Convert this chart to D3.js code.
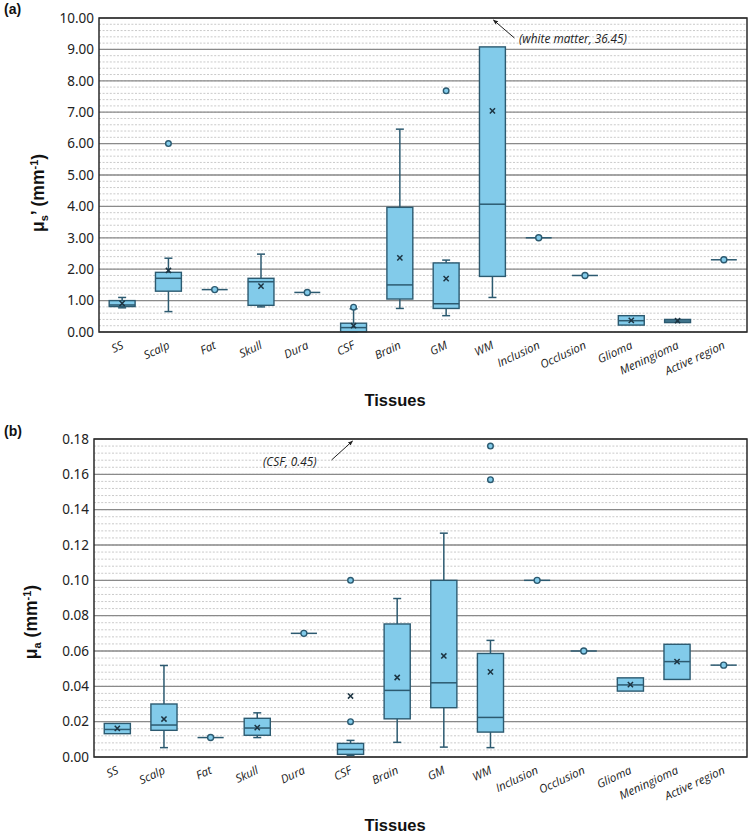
<!DOCTYPE html>
<html>
<head>
<meta charset="utf-8">
<script src="https://cdnjs.cloudflare.com/ajax/libs/d3/7.8.5/d3.min.js"></script>
<style>
  body { margin: 0; background: #fff; }
  svg { display: block; }
</style>
</head>
<body>
<div id="chart"></div>
<script>
// categories (shared by both panels)
var tissues = ["SS", "Scalp", "Fat", "Skull", "Dura", "CSF", "Brain", "GM", "WM",
               "Inclusion", "Occlusion", "Glioma", "Meningioma", "Active region"];

// (a) reduced scattering coefficient, mm-1
var musLow    = [0.77, 0.65, 1.35, 0.80, 1.26, 0.00, 0.75, 0.52, 1.10, 3.00, 1.80, 0.22, 0.30, 2.30];
var musQ1     = [0.81, 1.30, 1.35, 0.85, 1.26, 0.01, 1.05, 0.75, 1.77, 3.00, 1.80, 0.22, 0.30, 2.30];
var musMedian = [0.86, 1.71, 1.35, 1.60, 1.26, 0.14, 1.50, 0.90, 4.07, 3.00, 1.80, 0.36, 0.35, 2.30];
var musQ3     = [1.00, 1.90, 1.35, 1.71, 1.26, 0.28, 3.97, 2.20, 9.08, 3.00, 1.80, 0.52, 0.40, 2.30];
var musHigh   = [1.10, 2.35, 1.35, 2.48, 1.26, 0.74, 6.46, 2.29, 9.08, 3.00, 1.80, 0.52, 0.40, 2.30];
var musMean   = [0.91, 1.96, 1.35, 1.46, 1.26, 0.20, 2.36, 1.70, 7.04, 3.00, 1.80, 0.37, 0.36, 2.30];
var musOutliers = [["Scalp", 6.00], ["CSF", 0.79], ["GM", 7.68]];
var musTicks  = [0, 1, 2, 3, 4, 5, 6, 7, 8, 9, 10];

// (b) absorption coefficient, mm-1
var muaLow    = [0.0132, 0.0053, 0.011, 0.011, 0.070, 0.0010, 0.0083, 0.0056, 0.0053, 0.100, 0.060, 0.0373, 0.0439, 0.052];
var muaQ1     = [0.0132, 0.0151, 0.011, 0.0123, 0.070, 0.0015, 0.0216, 0.0279, 0.0141, 0.100, 0.060, 0.0373, 0.0439, 0.052];
var muaMedian = [0.0156, 0.0181, 0.011, 0.0164, 0.070, 0.0043, 0.0377, 0.0420, 0.0224, 0.100, 0.060, 0.0408, 0.0540, 0.052];
var muaQ3     = [0.0190, 0.0300, 0.011, 0.0219, 0.070, 0.0077, 0.0753, 0.1000, 0.0586, 0.100, 0.060, 0.0448, 0.0638, 0.052];
var muaHigh   = [0.0190, 0.0518, 0.011, 0.0250, 0.070, 0.0094, 0.0897, 0.1267, 0.0660, 0.100, 0.060, 0.0448, 0.0638, 0.052];
var muaMean   = [0.0162, 0.0215, 0.011, 0.0166, 0.070, 0.0345, 0.0450, 0.0572, 0.0482, 0.100, 0.060, 0.0410, 0.0540, 0.052];
var muaOutliers = [["CSF", 0.020], ["CSF", 0.100], ["WM", 0.176], ["WM", 0.157]];
var muaTicks  = [0, 0.02, 0.04, 0.06, 0.08, 0.10, 0.12, 0.14, 0.16, 0.18];

var fillCol   = "#82cbea";
var strokeCol = "#2c5a70";

var svg = d3.select("#chart").append("svg")
  .attr("width", 749)
  .attr("height", 833);

svg.append("defs").append("marker")
  .attr("id", "arrow")
  .attr("viewBox", "0 0 10 10")
  .attr("refX", 9).attr("refY", 5)
  .attr("markerWidth", 5).attr("markerHeight", 5)
  .attr("orient", "auto")
  .append("path")
  .attr("d", "M0,1 L10,5 L0,9 Z")
  .attr("fill", "#222");

function drawPanel(p) {
  var x = d3.scaleBand().domain(tissues).range([p.left, p.right]);
  var y = d3.scaleLinear().domain([0, p.max]).range([p.bottom, p.top]);
  var g = svg.append("g");

  // minor dotted grid
  var minor = d3.range(0, p.max + p.minorStep / 2, p.minorStep);
  g.selectAll(".minor").data(minor).enter().append("line")
    .attr("x1", p.left).attr("x2", p.right)
    .attr("y1", function(d){ return y(d); }).attr("y2", function(d){ return y(d); })
    .attr("stroke", "#c4c4c4").attr("stroke-width", 0.9)
    .attr("stroke-dasharray", "2,1.6");

  // major grid
  g.selectAll(".major").data(p.ticks).enter().append("line")
    .attr("x1", p.left).attr("x2", p.right)
    .attr("y1", function(d){ return y(d); }).attr("y2", function(d){ return y(d); })
    .attr("stroke", "#8a8a8a").attr("stroke-width", 1.3);

  // y axis labels
  var ax = g.append("g")
    .attr("transform", "translate(" + p.left + ",0)")
    .call(d3.axisLeft(y).tickValues(p.ticks).tickFormat(d3.format(".2f")).tickSize(0).tickPadding(5));
  ax.select(".domain").remove();
  ax.selectAll("text")
    .attr("font-family", "'Noto Sans', sans-serif")
    .attr("font-size", 13.5)
    .attr("fill", "#222");

  var bw = x.bandwidth() * 0.56;
  var boxes = g.selectAll(".box").data(tissues).enter().append("g")
    .attr("transform", function(d){ return "translate(" + (x(d) + x.bandwidth() / 2) + ",0)"; });

  // whiskers
  boxes.append("line")
    .attr("y1", function(d, i){ return y(p.high[i]); })
    .attr("y2", function(d, i){ return y(p.q3[i]); })
    .attr("stroke", strokeCol).attr("stroke-width", 1.5);
  boxes.append("line")
    .attr("y1", function(d, i){ return y(p.low[i]); })
    .attr("y2", function(d, i){ return y(p.q1[i]); })
    .attr("stroke", strokeCol).attr("stroke-width", 1.5);
  boxes.filter(function(d, i){ return p.high[i] > p.q3[i]; }).append("line")
    .attr("x1", -4).attr("x2", 4)
    .attr("y1", function(d){ var i = tissues.indexOf(d); return y(p.high[i]); })
    .attr("y2", function(d){ var i = tissues.indexOf(d); return y(p.high[i]); })
    .attr("stroke", strokeCol).attr("stroke-width", 1.5);
  boxes.filter(function(d, i){ return p.low[i] < p.q1[i]; }).append("line")
    .attr("x1", -4).attr("x2", 4)
    .attr("y1", function(d){ var i = tissues.indexOf(d); return y(p.low[i]); })
    .attr("y2", function(d){ var i = tissues.indexOf(d); return y(p.low[i]); })
    .attr("stroke", strokeCol).attr("stroke-width", 1.5);

  // box
  boxes.append("rect")
    .attr("x", -bw / 2).attr("width", bw)
    .attr("y", function(d, i){ return y(p.q3[i]); })
    .attr("height", function(d, i){ return Math.max(0, y(p.q1[i]) - y(p.q3[i])); })
    .attr("fill", fillCol).attr("stroke", strokeCol).attr("stroke-width", 1.4);

  // median
  boxes.append("line")
    .attr("x1", -bw / 2).attr("x2", bw / 2)
    .attr("y1", function(d, i){ return y(p.median[i]); })
    .attr("y2", function(d, i){ return y(p.median[i]); })
    .attr("stroke", strokeCol).attr("stroke-width", 1.5);

  // mean: x marker, or a circle when the box collapses to one value
  boxes.each(function(d, i){
    var s = d3.select(this), my = y(p.mean[i]);
    if (p.q1[i] === p.q3[i] && p.low[i] === p.high[i]) {
      s.append("circle").attr("cy", my).attr("r", 3)
        .attr("fill", fillCol).attr("stroke", strokeCol).attr("stroke-width", 1.4);
    } else {
      s.append("path")
        .attr("d", "M-2.6," + (my - 2.6) + "L2.6," + (my + 2.6) + "M-2.6," + (my + 2.6) + "L2.6," + (my - 2.6))
        .attr("stroke", "#1d3442").attr("stroke-width", 1.5);
    }
  });

  // outliers
  g.selectAll(".out").data(p.outliers).enter().append("circle")
    .attr("cx", function(d){ return x(d[0]) + x.bandwidth() / 2; })
    .attr("cy", function(d){ return y(d[1]); })
    .attr("r", 2.8)
    .attr("fill", fillCol).attr("stroke", strokeCol).attr("stroke-width", 1.4);

  // frame
  g.append("rect")
    .attr("x", p.left).attr("y", p.top)
    .attr("width", p.right - p.left).attr("height", p.bottom - p.top)
    .attr("fill", "none").attr("stroke", "#2a2a2a").attr("stroke-width", 1.5);

  // category labels
  g.selectAll(".cat").data(tissues).enter().append("text")
    .attr("transform", function(d){ return "translate(" + (x(d) + x.bandwidth() / 2 + 2) + "," + (p.bottom + 16) + ") rotate(-25)"; })
    .attr("text-anchor", "end")
    .attr("font-family", "'Open Sans', sans-serif")
    .attr("font-style", "italic")
    .attr("font-size", 11.5)
    .attr("fill", "#222")
    .text(function(d){ return d; });

  // off-scale annotation
  var ax0 = x(p.note.cat) + x.bandwidth() / 2 + p.note.dx;
  g.append("line")
    .attr("x1", ax0 + p.note.fromX).attr("y1", p.note.fromY)
    .attr("x2", ax0).attr("y2", p.top + 2)
    .attr("stroke", "#222").attr("stroke-width", 1)
    .attr("marker-end", "url(#arrow)");
  g.append("text")
    .attr("x", p.note.tx).attr("y", p.note.ty)
    .attr("font-family", "'Open Sans', sans-serif")
    .attr("font-style", "italic")
    .attr("font-size", 11.8)
    .attr("fill", "#222")
    .text(p.note.text);

  // titles
  var yt = g.append("text")
    .attr("transform", "translate(" + p.ytX + "," + p.ytY + ") rotate(-90)")
    .attr("text-anchor", "middle")
    .attr("font-family", "'Liberation Sans', Arial, sans-serif")
    .attr("font-weight", "bold")
    .attr("font-size", 17.5)
    .attr("fill", "#111");
  yt.append("tspan").text("μ");
  yt.append("tspan").attr("font-size", 11).attr("dy", 4).text(p.sub);
  yt.append("tspan").attr("dy", -4).text(p.prime + " (mm");
  yt.append("tspan").attr("font-size", 11).attr("dy", -6).text("-1");
  yt.append("tspan").attr("dy", 6).text(")");

  g.append("text")
    .attr("x", 395).attr("y", p.xtY)
    .attr("text-anchor", "middle")
    .attr("font-family", "'Liberation Sans', Arial, sans-serif")
    .attr("font-weight", "bold")
    .attr("font-size", 16.5)
    .attr("fill", "#111")
    .text("Tissues");

  g.append("text")
    .attr("x", 4).attr("y", p.labY)
    .attr("font-family", "'Liberation Sans', Arial, sans-serif")
    .attr("font-weight", "bold")
    .attr("font-size", 14)
    .attr("fill", "#111")
    .text(p.label);
}

drawPanel({
  left: 99, right: 747, top: 18, bottom: 332, max: 10, minorStep: 0.2,
  ticks: musTicks, low: musLow, q1: musQ1, median: musMedian, q3: musQ3, high: musHigh,
  mean: musMean, outliers: musOutliers,
  note: {cat: "WM", dx: 1, fromX: 21, fromY: 38, tx: 519, ty: 43, text: "(white matter, 36.45)"},
  ytX: 44, ytY: 193, sub: "s", prime: "’", xtY: 406, labY: 14, label: "(a)"
});

drawPanel({
  left: 94, right: 747, top: 439, bottom: 757, max: 0.18, minorStep: 0.004,
  ticks: muaTicks, low: muaLow, q1: muaQ1, median: muaMedian, q3: muaQ3, high: muaHigh,
  mean: muaMean, outliers: muaOutliers,
  note: {cat: "CSF", dx: 2, fromX: -21, fromY: 460, tx: 263, ty: 466, text: "(CSF, 0.45)"},
  ytX: 37, ytY: 622, sub: "a", prime: "", xtY: 831, labY: 436, label: "(b)"
});
</script>
</body>
</html>
